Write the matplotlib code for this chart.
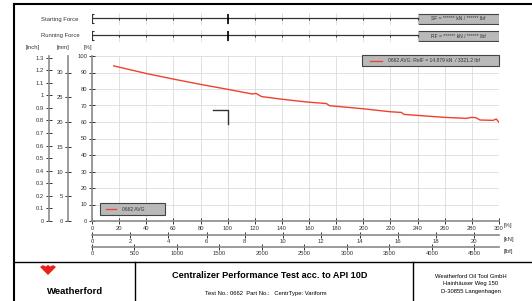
import numpy as np
import matplotlib
matplotlib.use("Agg")
import matplotlib.pyplot as plt
from matplotlib.patches import Rectangle, Polygon
from matplotlib.lines import Line2D

plt.rcParams['font.family'] = ['Liberation Sans', 'DejaVu Sans']

# measured curve: displacement [%] vs force [%]
pct_x = [16, 40, 60, 80, 100, 118, 121, 125, 140, 153, 160, 172.8, 175,
         200, 220, 228, 230, 240, 260, 276, 280, 283, 286, 295.6, 298, 300]
pct_y = [94, 89.4, 86, 82.8, 79.8, 77, 77.3, 75.4, 73.8, 72.6, 72, 71.2, 69.9,
         68, 66.2, 65.8, 64.6, 64, 62.8, 62.2, 62.8, 62.6, 61.2, 61, 61.8, 59.8]
marker_x = [89, 100, 100]
marker_y = [67, 67, 59]

pct_ticks = list(range(0, 301, 20))
kn_ticks = list(range(0, 21, 2))
lbf_ticks = list(range(0, 4501, 500))
kn_max = 21.3
lbf_max = kn_max * 224.809
mm_ticks = list(range(0, 31, 5))
inch_ticks = [round(0.1 * i, 1) for i in range(14)]
mm_max = 100 / 3

legend_top = "0662 AVG: RelF = 14.879 kN  / 3321.2 lbf"
legend_low = "0662 AVG"
sf_text = "SF = ****** kN / ****** lbf"
rf_text = "RF = ****** kN / ****** lbf"

W, H = 532, 301
fig = plt.figure(figsize=(W / 100, H / 100), dpi=100)

def ax_px(l, t, r, b):
    return fig.add_axes([l / W, 1 - b / H, (r - l) / W, (b - t) / H])

def px(x, y):
    return x / W, 1 - y / H

RED = '#f0402e'
GRID = '#dcdcdc'
SPINE = '#8a8a8a'
TXT = '#333333'
fs = 4.2

# frame lines
for xs, ys, lw in [((14, 532), (4, 4), 1.5), ((14, 14), (4, 301), 1.5),
                   ((14, 532), (262, 262), 1.0), ((135, 135), (262, 301), 1.0),
                   ((413, 413), (262, 301), 1.0)]:
    fig.add_artist(Line2D([x / W for x in xs], [1 - y / H for y in ys],
                          color='black', lw=lw))

# main axes
ax = ax_px(92, 56, 499, 221)
ax.plot(pct_x, pct_y, color=RED, lw=1.0)
ax.plot(marker_x, marker_y, color='#333333', lw=1.0)
ax.set_xlim(0, 300)
ax.set_ylim(0, 100)
ax.set_xticks(pct_ticks)
ax.set_yticks(range(0, 101, 10))
ax.grid(True, color=GRID, lw=0.6)
for s in ['top', 'right']:
    ax.spines[s].set_visible(False)
for s in ['left', 'bottom']:
    ax.spines[s].set_color(SPINE)
    ax.spines[s].set_linewidth(1.2)
ax.tick_params(labelsize=fs, direction='inout', length=4, width=0.7,
               colors=TXT, pad=1.5)

# legends
ax.add_patch(Rectangle((199, 94), 101, 6.5, facecolor='#b9b9b9',
                       edgecolor='#444444', lw=0.8, clip_on=False, zorder=5))
ax.plot([205, 214], [97.2, 97.2], color=RED, lw=0.9, clip_on=False, zorder=6)
ax.text(218, 97.2, legend_top, fontsize=3.6, va='center', color=TXT, zorder=6)
ax.add_patch(Rectangle((6, 3.6), 48, 7.3, facecolor='#b9b9b9',
                       edgecolor='#444444', lw=0.8, clip_on=False, zorder=5))
ax.plot([10, 18], [7.2, 7.2], color=RED, lw=0.9, zorder=6)
ax.text(22, 7.2, legend_low, fontsize=3.6, va='center', color=TXT, zorder=6)

# secondary vertical axes
for xpos, top, ticks, fmt in [(68, mm_max, mm_ticks, '%g'),
                              (49, mm_max / 25.4, inch_ticks, '%g')]:
    a = ax_px(xpos, 56, xpos + 1, 221)
    a.patch.set_visible(False)
    for s in ['top', 'right', 'bottom']:
        a.spines[s].set_visible(False)
    a.spines['left'].set_color(SPINE)
    a.spines['left'].set_linewidth(1.2)
    a.set_ylim(0, top)
    a.set_yticks(ticks)
    a.set_yticklabels([fmt % t for t in ticks])
    a.set_xticks([])
    a.tick_params(labelsize=fs, direction='inout', length=4, width=0.7,
                  colors=TXT, pad=1.5)

for x, lab in [(33, '[inch]'), (63, '[mm]'), (88, '[%]')]:
    fig.text(*px(x, 48), lab, fontsize=fs, color=TXT, ha='center', va='center')

# secondary horizontal axes
for ypos, xmax, ticks in [(235, kn_max, kn_ticks), (247, lbf_max, lbf_ticks)]:
    a = ax_px(92, ypos - 1, 499, ypos)
    a.patch.set_visible(False)
    for s in ['top', 'right', 'left']:
        a.spines[s].set_visible(False)
    a.spines['bottom'].set_color(SPINE)
    a.spines['bottom'].set_linewidth(1.2)
    a.set_xlim(0, xmax)
    a.set_xticks(ticks)
    a.set_yticks([])
    a.tick_params(labelsize=fs, direction='inout', length=4, width=0.7,
                  colors=TXT, pad=1)

for y, lab in [(226, '[%]'), (239, '[kN]'), (252, '[lbf]')]:
    fig.text(*px(504, y), lab, fontsize=fs, color=TXT, va='center')

# force rows
for top, label, btxt in [(13, 'Starting Force', sf_text),
                         (30, 'Running Force', rf_text)]:
    a = ax_px(92, top, 499, top + 12)
    a.set_xlim(0, 300)
    a.set_ylim(0, 1)
    a.axis('off')
    for g in pct_ticks[1:13]:
        a.axvline(g, color=GRID, lw=0.6)
    a.plot([0, 240], [0.55, 0.55], color='#333333', lw=0.9)
    a.vlines(pct_ticks[1:13], 0.4, 0.55, color='#333333', lw=0.7)
    a.vlines(100, 0.1, 0.95, color='black', lw=1.2)
    a.vlines(0, 0.2, 0.9, color='#333333', lw=0.8)
    a.hlines([0.2, 0.9], -1.5, 1.5, color='#333333', lw=0.8)
    a.add_patch(Rectangle((240, 0.05), 60, 0.9, facecolor='#b9b9b9',
                          edgecolor='#444444', lw=0.8))
    a.text(270, 0.5, btxt, fontsize=3.6, ha='center', va='center', color=TXT)
    fig.text(*px(60, top + 6), label, fontsize=fs, color=TXT,
             ha='center', va='center')

# title block
logo = [(-8, -3), (-5, -5), (-2.5, -3.5), (0, -5), (2.5, -3.5), (5, -5),
        (8, -3), (0, 5)]
fig.add_artist(Polygon([px(48 + dx, 270 + dy) for dx, dy in logo],
                       closed=True, facecolor='#e8201c', edgecolor='none'))
fig.text(*px(75, 292), 'Weatherford', fontsize=6.8, fontweight='bold',
         ha='center', va='center')
fig.text(*px(270, 275), 'Centralizer Performance Test acc. to API 10D',
         fontsize=6.6, fontweight='bold', ha='center', va='center')
fig.text(*px(266, 294), 'Test No.: 0662  Part No.:   CentrType: Variform',
         fontsize=4.2, ha='center', va='center')
for i, line in enumerate(['Weatherford Oil Tool GmbH', 'Hainhäuser Weg 150',
                          'D-30855 Langenhagen']):
    fig.text(*px(471, 276 + 7.5 * i), line, fontsize=4.2,
             ha='center', va='center')

fig.savefig('out.png', dpi=100)
